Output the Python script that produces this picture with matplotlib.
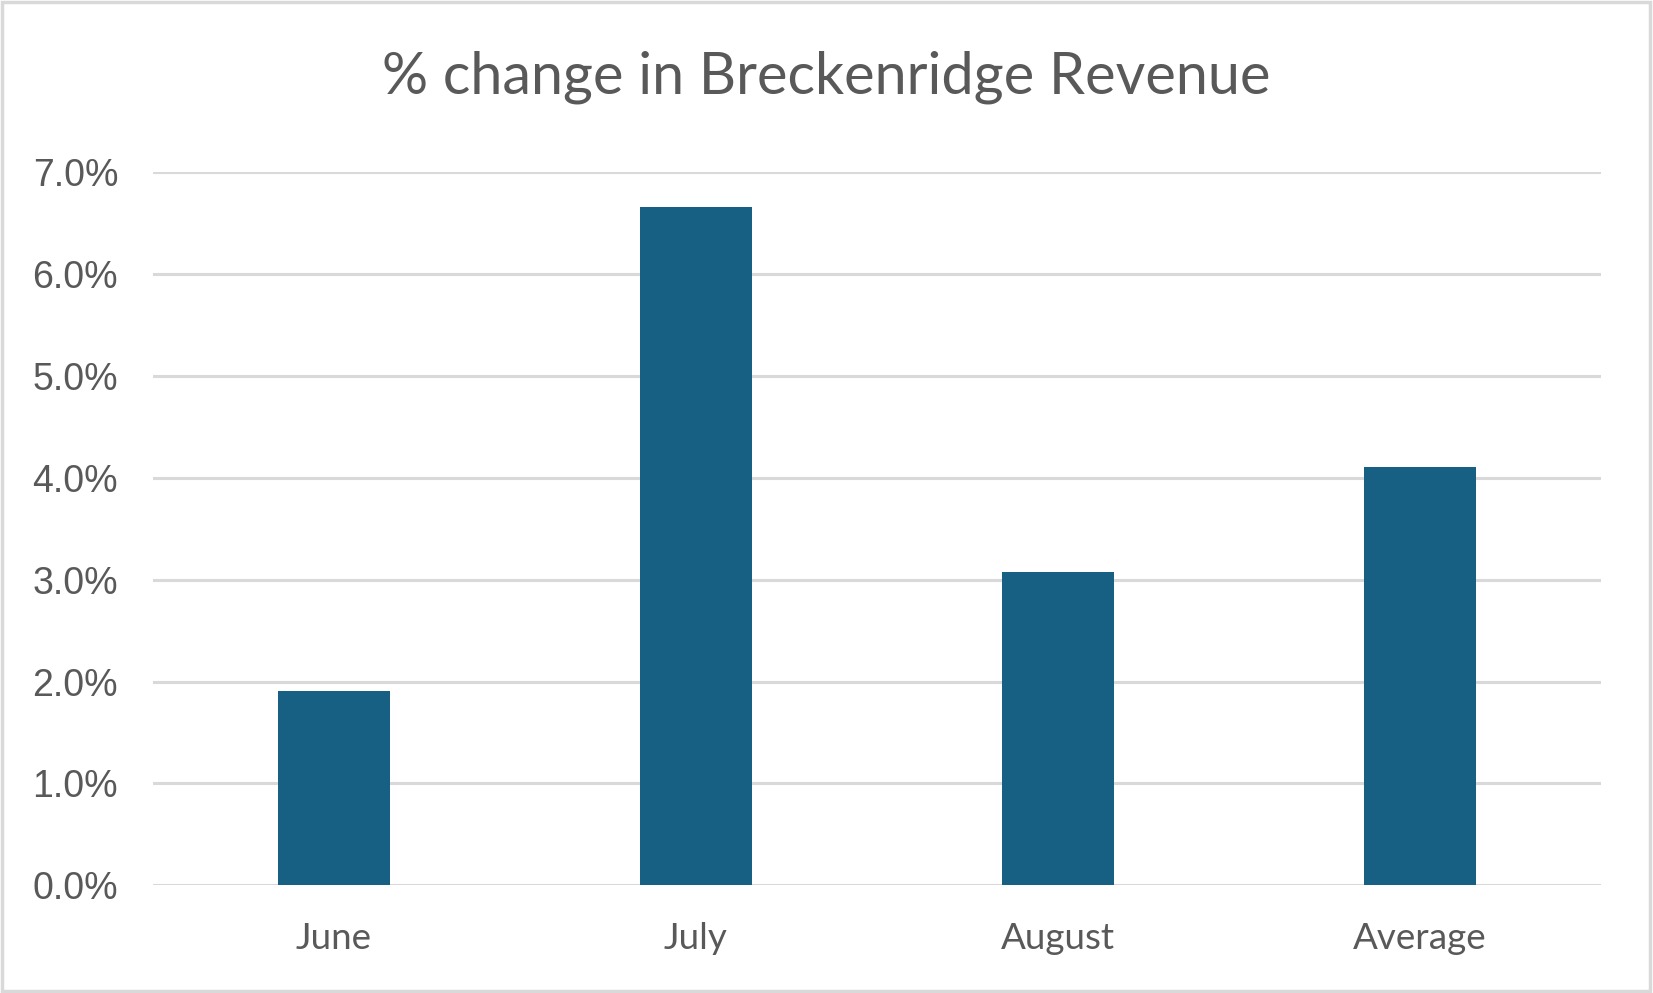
import matplotlib.pyplot as plt
from matplotlib.patches import Rectangle
from matplotlib.ticker import PercentFormatter

categories = ["June", "July", "August", "Average"]
pct_change = [0.0191, 0.0665, 0.0307, 0.0410]
y_ticks = [0.0, 0.01, 0.02, 0.03, 0.04, 0.05, 0.06, 0.07]

TEXT = "#595959"
BAR = "#176083"
GRID = "#D9D9D9"

fig = plt.figure(figsize=(16.53, 9.93), dpi=100)
ax = fig.add_axes([0.0925, 0.1083, 0.8761, 0.7188])

x = range(len(categories))
ax.bar(x, pct_change, width=0.31, color=BAR, zorder=3)

ax.set_xlim(-0.5, len(categories) - 0.5)
ax.set_ylim(0, 0.07)
ax.set_yticks(y_ticks)
ax.yaxis.set_major_formatter(PercentFormatter(1.0, decimals=1))
ax.set_xticks(list(x))
ax.set_xticklabels(categories, family="Lato", fontsize=26.5, color=TEXT)
for lbl in ax.get_yticklabels():
    lbl.set_family("Liberation Sans")
    lbl.set_fontsize(27)
    lbl.set_color(TEXT)

ax.tick_params(axis="y", length=0, pad=25)
ax.tick_params(axis="x", length=0, pad=26)
ax.grid(axis="y", color=GRID, linewidth=2.2, zorder=0)
for side in ax.spines.values():
    side.set_visible(False)

fig.text(0.5, 0.922, "% change in Breckenridge Revenue", ha="center", va="center",
         family="Lato", fontsize=41.5, color=TEXT)

fig.patches.append(Rectangle((0.001, 0.002), 0.997, 0.996, transform=fig.transFigure,
                             fill=False, edgecolor=GRID, linewidth=2.5))

fig.savefig("out.png", dpi=100)
